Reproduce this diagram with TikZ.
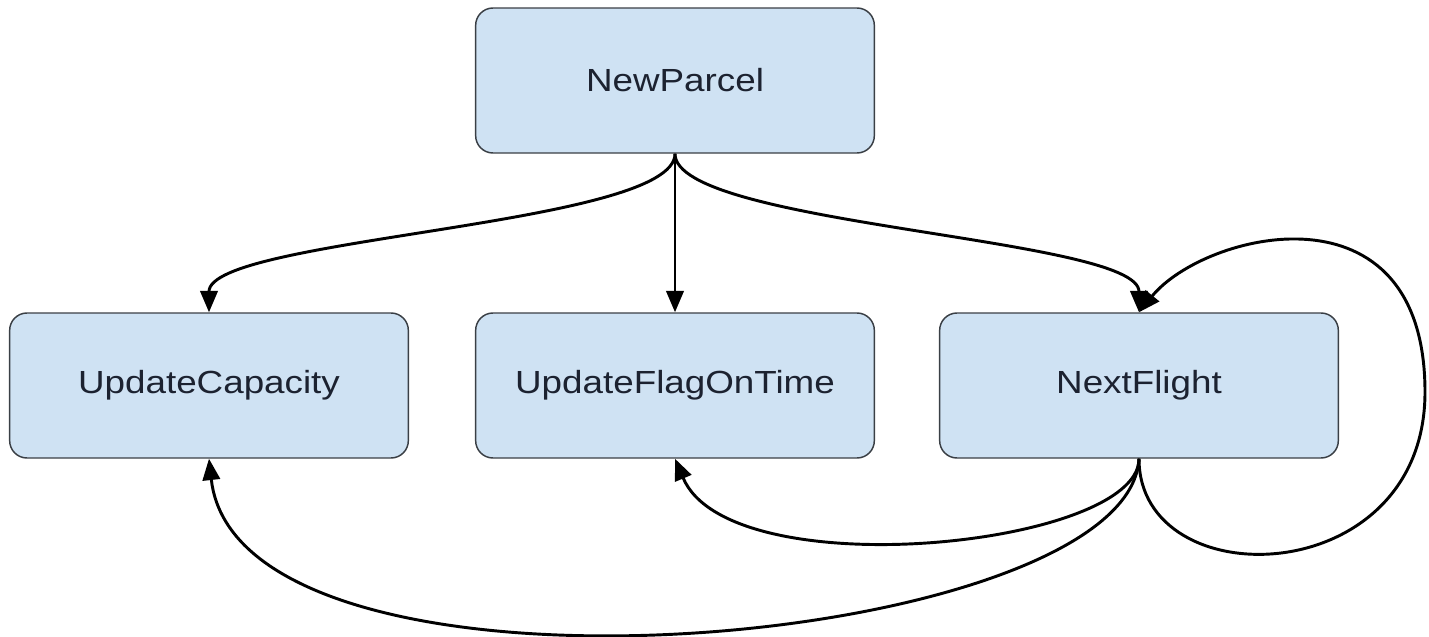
\documentclass[tikz,border=0pt]{standalone}
\usepackage{fontspec}
\newfontfamily\boxfont[FakeStretch=1.15]{Liberation Sans}
\usetikzlibrary{arrows.meta}
\definecolor{boxfill}{HTML}{CFE2F3}
\definecolor{boxline}{HTML}{3A3F45}
\definecolor{boxtext}{HTML}{1C2230}
\tikzset{
  state/.style={draw=boxline, line width=1.1pt, fill=boxfill, rounded corners=13pt,
    minimum width=299pt, minimum height=108.75pt, inner sep=0pt,
    font=\boxfont\fontsize{24}{28}\selectfont, text=boxtext},
  flow/.style={line width=2.2pt, -{Triangle[length=16pt,width=13pt]}},
}
\begin{document}
\begin{tikzpicture}[x=0.75pt, y=-0.75pt]
\useasboundingbox (0,0) rectangle (1429,636);
\node[state] (np) at (675,80.5) {NewParcel};
\node[state] (uc) at (209,385.5) {UpdateCapacity};
\node[state] (uf) at (675,385.5) {UpdateFlagOnTime};
\node[state] (nf) at (1139,385.5) {NextFlight};

% fan-out from NewParcel
\draw[flow] (np.south) .. controls ++(0,72) and ++(0,-75) .. (uc.north);
\draw[flow] (np.south) -- (uf.north);
\draw[flow] (np.south) .. controls ++(0,72) and ++(0,-75) .. (nf.north);

% NextFlight loops back onto itself
\coordinate (loopR) at (1425,392);
\draw[flow] (nf.south) .. controls ++(0,140) and ++(0,200) .. (loopR)
  .. controls ++(0,-215) and ++(65,-80) .. (nf.north);

% returns from NextFlight
\draw[flow] (nf.south) .. controls ++(0,88) and ++(55,130) .. (uf.south);
\draw[flow] (nf.south) .. controls ++(-10,190) and ++(30,270) .. (uc.south);
\end{tikzpicture}
\end{document}
